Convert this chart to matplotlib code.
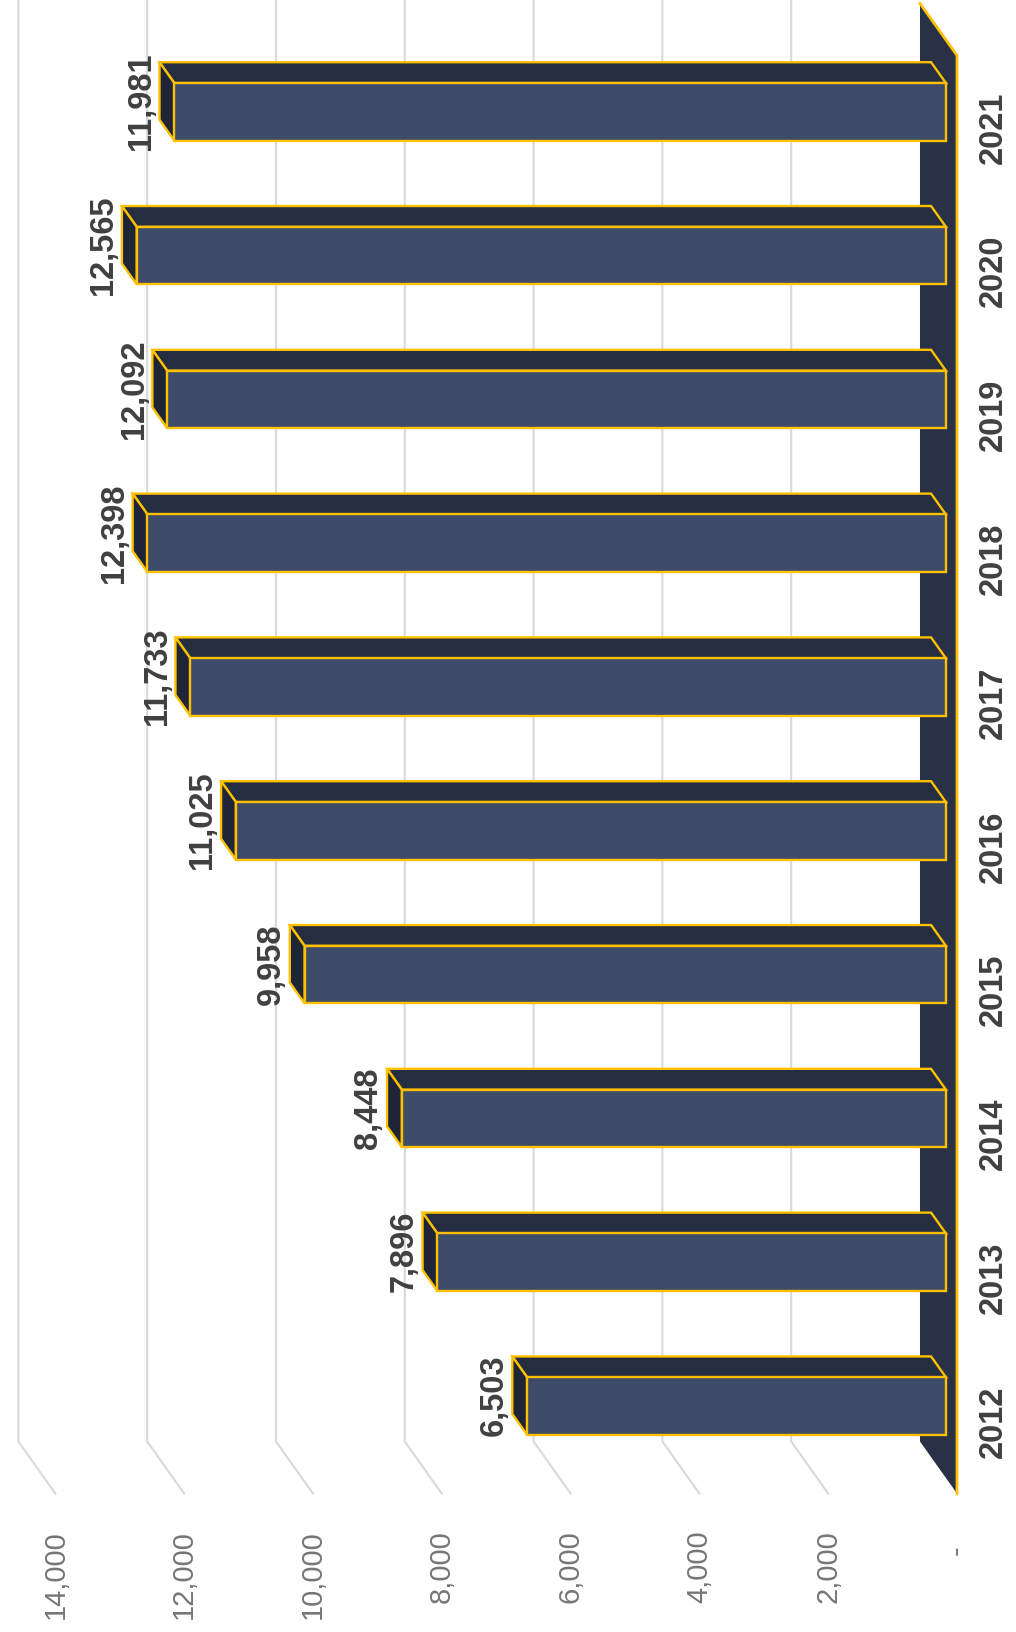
import matplotlib.pyplot as plt
from matplotlib.patches import Polygon

plt.rcParams['font.family'] = ['Liberation Sans', 'DejaVu Sans']

years = ['2012', '2013', '2014', '2015', '2016', '2017', '2018', '2019', '2020', '2021']
values = [6503, 7896, 8448, 9958, 11025, 11733, 12398, 12092, 12565, 11981]
ticks = [0, 2000, 4000, 6000, 8000, 10000, 12000, 14000]
tick_labels = ['-', '2,000', '4,000', '6,000', '8,000', '10,000', '12,000', '14,000']

# oblique projection: going one full floor depth back moves a point by DV along
# the value axis and DC along the category axis
DV = 575
DC = 0.362
D_FRONT, D_BACK = 0.3, 0.7   # bars sit in the middle of the floor depth
HALF = 0.2                   # half bar width, in category units

FACE = '#3f4c69'
SIDE = '#252e41'
END = '#1d2537'
FLOOR = '#283145'
EDGE = '#ffc000'
GRID = '#d9d9d9'


def pt(v, c, d):
    return (v + d * DV, c + d * DC)


fig = plt.figure(figsize=(10.16, 16.32), dpi=100)
ax = fig.add_axes([0, 0, 1, 1])
ax.set_xlim(14860, -916)
ax.set_ylim(-1.463, 9.886)
ax.axis('off')

# wall gridlines: along the side wall, then up the back wall
for v in ticks[1:]:
    p0 = pt(v, -0.5, 0)
    p1 = pt(v, -0.5, 1)
    p2 = pt(v, 11, 1)
    ax.plot([p0[0], p1[0], p2[0]], [p0[1], p1[1], p2[1]],
            color=GRID, lw=1.5, zorder=1, solid_joinstyle='miter')

# floor slab
n = len(years)
floor = [pt(0, -0.5, 0), pt(0, -0.5, 1), pt(0, n - 0.5, 1), pt(0, n - 0.5, 0)]
ax.add_patch(Polygon(floor, closed=True, facecolor=FLOOR, edgecolor='none', zorder=2))
fx, fy = zip(pt(0, -0.5, 0), pt(0, n - 0.5, 0), pt(0, n - 0.5, 1))
ax.plot(fx, fy, color=EDGE, lw=2, zorder=2.5)

# 3d bars
for i, v in enumerate(values):
    lo, hi = i - HALF, i + HALF
    side = [pt(0, hi, D_FRONT), pt(v, hi, D_FRONT), pt(v, hi, D_BACK), pt(0, hi, D_BACK)]
    end = [pt(v, lo, D_FRONT), pt(v, hi, D_FRONT), pt(v, hi, D_BACK), pt(v, lo, D_BACK)]
    front = [pt(0, lo, D_FRONT), pt(v, lo, D_FRONT), pt(v, hi, D_FRONT), pt(0, hi, D_FRONT)]
    for poly, col in ((side, SIDE), (end, END), (front, FACE)):
        ax.add_patch(Polygon(poly, closed=True, facecolor=col, edgecolor=EDGE,
                             lw=1.7, joinstyle='miter', zorder=3))

    ax.annotate(f'{v:,}', xy=(v + D_BACK * DV, i + 0.5 * DC), xytext=(-2, 0),
                textcoords='offset points', ha='right', va='center', rotation=90,
                fontsize=23.5, fontweight='bold', color='#404040', zorder=4)

    ax.annotate(years[i], xy=pt(0, i, 0), xytext=(15, 0), textcoords='offset points',
                ha='left', va='center', rotation=90,
                fontsize=23.5, fontweight='bold', color='#404040')

# value axis labels along the front edge of the side wall
for v, lab in zip(ticks, tick_labels):
    if v == 0:
        ax.text(v, -0.893, lab, ha='center', va='center', rotation=90,
                fontsize=21, color='#767676')
    else:
        ax.text(v, -0.754, lab, ha='center', va='top', rotation=90,
                fontsize=21, color='#767676')

fig.savefig('out.png', dpi=100, facecolor='white')
